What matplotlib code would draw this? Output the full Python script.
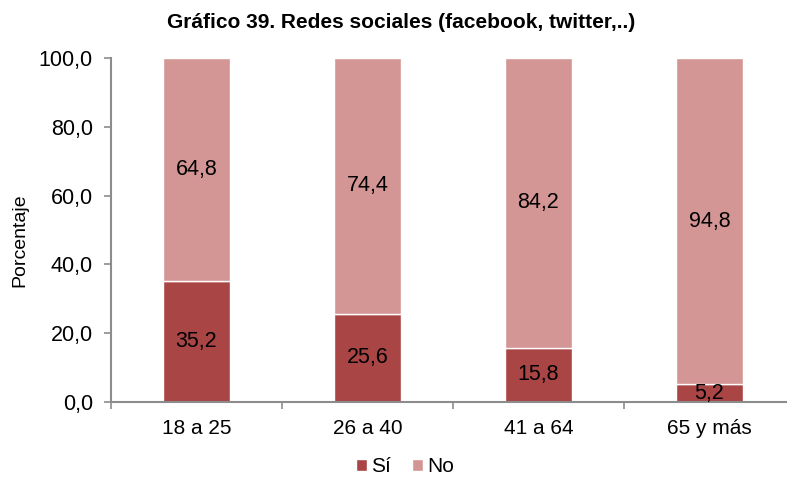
import matplotlib
matplotlib.use("Agg")
import matplotlib.pyplot as plt
from matplotlib.ticker import FixedLocator, NullFormatter

plt.rcParams["font.family"] = ["Liberation Sans", "DejaVu Sans"]

categories = ["18 a 25", "26 a 40", "41 a 64", "65 y más"]
si_values = [35.2, 25.6, 15.8, 5.2]
no_values = [64.8, 74.4, 84.2, 94.8]
y_ticks = [0, 20, 40, 60, 80, 100]

SI_COLOR = "#A94545"
NO_COLOR = "#D49595"
AXIS_COLOR = "#8C8C8C"

W, H = 787, 479
fig = plt.figure(figsize=(W / 100, H / 100), dpi=100)
x0, x1 = 111, 795
y0, y1 = 402, 58
ax = fig.add_axes([x0 / W, (H - y0) / H, (x1 - x0) / W, (y0 - y1) / H])

x = list(range(len(categories)))
width = 0.39
b1 = ax.bar(x, si_values, width, color=SI_COLOR, edgecolor="white", linewidth=1.0, label="Sí")
b2 = ax.bar(x, no_values, width, bottom=si_values, color=NO_COLOR, edgecolor="white",
            linewidth=1.0, label="No")

for i in x:
    ax.text(i, si_values[i] / 2, f"{si_values[i]:.1f}".replace(".", ","),
            ha="center", va="center", fontsize=15.5)
    ax.text(i, si_values[i] + no_values[i] / 2, f"{no_values[i]:.1f}".replace(".", ","),
            ha="center", va="center", fontsize=15.5)

ax.set_xlim(-0.5, len(categories) - 0.5)
ax.set_ylim(0, 100)
ax.set_yticks(y_ticks)
ax.set_yticklabels([f"{v:.1f}".replace(".", ",") for v in y_ticks], fontsize=15.5)
ax.xaxis.set_major_locator(FixedLocator([-0.5 + k for k in range(len(categories) + 1)]))
ax.xaxis.set_major_formatter(NullFormatter())
ax.xaxis.set_minor_locator(FixedLocator(x))
ax.set_xticklabels(categories, minor=True, fontsize=15)
ax.tick_params(axis="x", which="minor", length=0, pad=12)
ax.tick_params(axis="x", which="major", length=5, color=AXIS_COLOR, width=1.2)
ax.tick_params(axis="y", length=5, color=AXIS_COLOR, width=1.2, pad=8)

for side in ["top", "right"]:
    ax.spines[side].set_visible(False)
for side in ["left", "bottom"]:
    ax.spines[side].set_color(AXIS_COLOR)
    ax.spines[side].set_linewidth(1.5)

fig.text(20 / W, 1 - 240 / H, "Porcentaje", rotation=90, ha="center", va="center", fontsize=14)
fig.text(401 / W, 1 - 22 / H, "Gráfico 39. Redes sociales (facebook, twitter,..)",
         ha="center", va="center", fontsize=15, fontweight="bold")

fig.legend(handles=[b1, b2], loc="center", bbox_to_anchor=(405 / W, 1 - 467 / H), ncol=2,
           frameon=False, fontsize=15, handlelength=0.55, handleheight=0.55,
           handletextpad=0.2, columnspacing=1.0)

fig.savefig("out.png", dpi=100)
